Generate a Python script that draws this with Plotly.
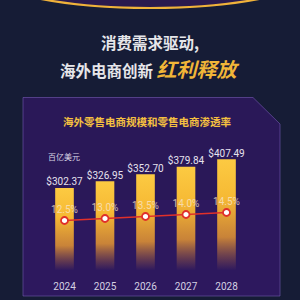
import plotly.graph_objects as go

years = ["2024", "2025", "2026", "2027", "2028"]
market = [302.37, 326.95, 352.70, 379.84, 407.49]
penetration = [12.5, 13.0, 13.5, 14.0, 14.5]
market_labels = ["$302.37", "$326.95", "$352.70", "$379.84", "$407.49"]
pen_labels = ["12.5%", "13.0%", "13.5%", "14.0%", "14.5%"]

W = H = 300
def px(x):
    return x / W
def py(y):
    return 1 - y / H

fig = go.Figure()

half = 0.23
for i, (yr, v) in enumerate(zip(years, market)):
    xs = [i - half, i + half, i + half, i - half, i - half]
    ys = [0, 0, v, v, 0]
    fig.add_trace(go.Scatter(
        x=xs, y=ys, mode="lines", fill="toself",
        line=dict(width=0, color="rgba(0,0,0,0)"),
        fillgradient=dict(
            type="vertical",
            colorscale=[[0, "rgba(200,120,60,0)"], [0.1, "rgba(200,120,55,0.3)"],
                        [0.3, "rgba(228,150,50,0.85)"], [0.65, "rgba(246,185,52,1)"],
                        [1, "rgba(252,202,66,1)"]],
        ),
        hoverinfo="skip", showlegend=False, xaxis="x", yaxis="y",
    ))

# value labels
fig.add_trace(go.Scatter(
    x=list(range(len(years))), y=market, mode="text", text=market_labels,
    textposition="top center",
    textfont=dict(family="Roboto, Noto Sans", size=10, color="#e6e2ee"),
    showlegend=False, hoverinfo="skip", xaxis="x", yaxis="y",
))

# penetration line
fig.add_trace(go.Scatter(
    x=list(range(len(years))), y=penetration, mode="lines+markers+text",
    text=pen_labels, textposition="top center",
    textfont=dict(family="Roboto, Noto Sans", size=10, color="rgba(248,228,200,0.8)"),
    line=dict(color="#e0302a", width=1.6),
    marker=dict(size=7, color="#ffffff", line=dict(color="#e0302a", width=1.8)),
    showlegend=False, hoverinfo="skip", xaxis="x", yaxis="y2",
))

ppu = (190.7 - 162.0) / (market[-1] - market[0])  # px per unit
base = 270.5
top = 120
R1 = (base - top) / ppu
R2 = (base - top) / 4.0

shapes = [
    # top ellipse
    dict(type="circle", xref="paper", yref="paper",
         x0=px(-22), x1=px(322), y0=py(8), y1=py(-72),
         fillcolor="#2a1a4e", line=dict(color="#f0b23a", width=2.2), layer="below"),
    # panel
    dict(type="path", xref="paper", yref="paper",
         path=f"M {px(23)},{py(97.5)} L {px(253)},{py(97.5)} L {px(280)},{py(124)} "
              f"L {px(280)},{py(296)} L {px(23)},{py(296)} Z",
         fillcolor="#2a1858", line=dict(color="rgba(125,95,190,0.55)", width=1), layer="below"),
    # subtle lower glow in panel
    dict(type="rect", xref="paper", yref="paper",
         x0=px(24), x1=px(279), y0=py(295), y1=py(200),
         fillcolor="rgba(60,30,120,0.18)", line=dict(width=0), layer="below"),
]

annotations = [
    dict(text="<b>消费需求驱动,</b>", x=0.5, y=py(42), xref="paper", yref="paper",
         showarrow=False, xanchor="center", yanchor="middle",
         font=dict(family="Noto Sans CJK SC", size=15.5, color="#e6e6ea")),
    dict(text="<b>海外电商创新 <span style='color:#f2b638;font-size:20px'><i>红利释放</i></span></b>",
         x=px(150), y=py(68), xref="paper", yref="paper",
         showarrow=False, xanchor="center", yanchor="middle",
         font=dict(family="Noto Sans CJK SC", size=15.5, color="#e6e6ea")),
    dict(text="<b>海外零售电商规模和零售电商渗透率</b>", x=px(147), y=py(121),
         xref="paper", yref="paper", showarrow=False, xanchor="center", yanchor="middle",
         font=dict(family="Noto Sans CJK SC", size=10.5, color="#f5c040")),
    dict(text="百亿美元", x=px(63.5), y=py(156), xref="paper", yref="paper",
         showarrow=False, xanchor="center", yanchor="middle",
         font=dict(family="Noto Sans CJK SC", size=8, color="#d8d4e4")),
]

x0 = 64.5 - 0.5 * 40.5
x1 = x0 + 5 * 40.5

fig.update_layout(
    width=W, height=H, margin=dict(l=0, r=0, t=0, b=0),
    paper_bgcolor="#161c36", plot_bgcolor="rgba(0,0,0,0)",
    shapes=shapes, annotations=annotations,
    xaxis=dict(domain=[px(x0), px(x1)], range=[-0.5, 4.5], tickmode="array",
               tickvals=list(range(len(years))), ticktext=years,
               showgrid=False, zeroline=False, showline=False, ticks="",
               ticklabelstandoff=8,
               tickfont=dict(family="Roboto, Noto Sans", size=10, color="#d4d0e2")),
    yaxis=dict(domain=[py(base), py(top)], range=[0, R1], visible=False,
               showgrid=False, zeroline=False),
    yaxis2=dict(domain=[py(base), py(top)], range=[0, R2], overlaying="y",
                visible=False, showgrid=False, zeroline=False, anchor="x"),
)

fig.write_html("out.html")
